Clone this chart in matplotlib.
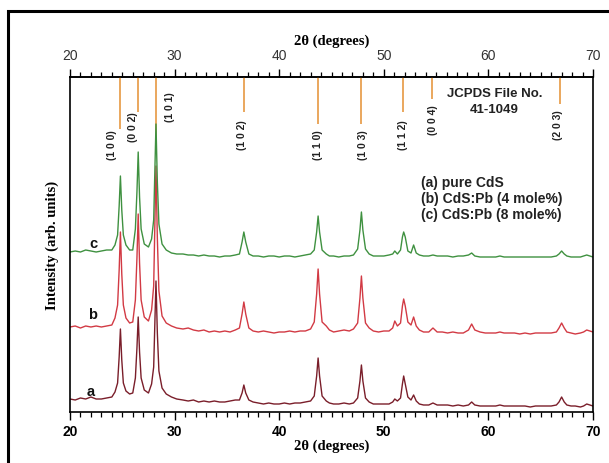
import matplotlib
matplotlib.use("Agg")
import matplotlib.pyplot as plt
from matplotlib.patches import Rectangle
from matplotlib.ticker import MultipleLocator

# ---------------- data ----------------
two_theta = [
    20.0, 20.5, 21.0, 21.5, 22.0, 22.5, 23.0, 23.5, 24.0,
    24.3, 24.55, 24.7, 24.82, 24.95, 25.1, 25.35, 25.7, 26.0,
    26.25, 26.4, 26.52, 26.65, 26.8, 27.1,
    27.5, 27.8, 28.0, 28.12, 28.22, 28.35, 28.5, 28.8, 29.2, 29.7,
    30.2, 30.8, 31.3, 31.8, 32.3, 32.8, 33.3, 33.8, 34.3, 34.8, 35.3, 35.8,
    36.2, 36.45, 36.62, 36.8, 37.1, 37.5,
    38.0, 38.5, 39.0, 39.5, 40.0, 40.5, 41.0, 41.5, 42.0, 42.5, 43.0,
    43.35, 43.58, 43.72, 43.86, 44.1, 44.5, 44.8,
    45.2, 45.7, 46.2, 46.7, 47.1,
    47.5, 47.72, 47.86, 48.0, 48.25, 48.6, 49.0,
    49.5, 50.0, 50.5,
    50.85, 51.05, 51.3, 51.6, 51.78, 51.9, 52.05, 52.3, 52.6, 52.85, 53.1, 53.4, 53.8,
    54.3, 54.7, 55.1, 55.6, 56.1, 56.6, 57.1, 57.6, 58.1, 58.4, 58.7, 59.2, 59.7,
    60.2, 60.7, 61.1, 61.5, 62.0, 62.5, 63.0, 63.5, 64.0, 64.5, 65.0, 65.5, 66.0, 66.5,
    66.75, 67.0, 67.25, 67.5, 67.9,
    68.3, 68.8, 69.1, 69.4, 69.7, 70.0,
]

# (a) pure CdS
intensity_a = [
    13, 12, 14, 13, 15, 13, 13, 14, 15,
    20, 29, 55, 83, 52, 29, 21, 18, 19,
    34, 64, 95, 60, 34, 22,
    19, 28, 45, 91, 131, 79, 41, 24, 18, 15,
    13, 12, 11, 12, 10, 11, 10, 11, 10, 10, 11, 12,
    12, 19, 27, 19, 12, 10,
    9, 8, 9, 8, 8, 9, 8, 9, 9, 10, 11,
    16, 36, 54, 36, 16, 11, 9,
    8, 8, 9, 8, 9,
    14, 31, 47, 31, 14, 10, 8,
    8, 8, 8,
    10, 13, 11, 14, 28, 36, 28, 15, 12, 17, 11, 8, 7,
    7, 9, 7, 7, 7, 6, 7, 6, 7, 10, 7, 6, 6,
    6, 6, 7, 6, 6, 6, 6, 6, 5, 6, 6, 6, 6, 7,
    10, 15, 10, 7, 6,
    6, 5, 6, 8, 7, 6,
]

# (b) CdS:Pb (4 mole%)
intensity_b = [
    85, 86, 84, 86, 85, 86, 85, 86, 87,
    94, 107, 142, 180, 138, 107, 94, 89, 90,
    112, 154, 198, 149, 112, 95,
    91, 102, 126, 190, 246, 174, 121, 96, 89, 86,
    84, 83, 84, 82, 81, 82, 80, 81, 80, 81, 80, 82,
    84, 98, 110, 98, 84, 81,
    80, 81, 80, 79, 80, 80, 81, 80, 81, 81, 83,
    90, 118, 143, 118, 90, 86, 82,
    80, 81, 82, 81, 83,
    89, 114, 136, 114, 89, 84, 81,
    80, 81, 81,
    84, 91, 86, 89, 106, 113, 106, 90, 87, 95, 86, 82, 80,
    80, 84, 80, 80, 79, 80, 79, 79, 82, 88, 82, 80, 79,
    79, 79, 80, 79, 79, 79, 78, 79, 78, 79, 79, 79, 79, 80,
    84, 89, 84, 80, 79,
    78, 79, 80, 82, 81, 80,
]

# (c) CdS:Pb (8 mole%)
intensity_c = [
    160, 161, 160, 162, 161, 160, 161, 162, 162,
    167, 177, 206, 236, 202, 177, 167, 162, 162,
    183, 220, 260, 215, 183, 168,
    165, 173, 192, 243, 288, 230, 188, 168, 162, 159,
    158, 158, 157, 157, 156, 157, 156, 156, 155, 156, 156, 157,
    158, 170, 180, 170, 158, 156,
    156, 155, 156, 156, 155, 156, 156, 155, 156, 157, 158,
    162, 180, 196, 180, 162, 158, 156,
    156, 155, 156, 156, 157,
    163, 182, 200, 182, 163, 158, 156,
    156, 156, 157,
    158, 161, 158, 162, 175, 180, 175, 161, 159, 167, 159, 157, 156,
    156, 157, 156, 156, 156, 155, 156, 156, 157, 159, 156, 155, 155,
    155, 155, 156, 155, 155, 155, 155, 155, 155, 155, 155, 155, 155, 156,
    158, 161, 158, 156, 155,
    155, 155, 156, 157, 156, 155,
]

# JCPDS 41-1049 reference lines
jcpds_pos = [24.82, 26.52, 28.2, 36.62, 43.7, 47.85, 51.85, 54.6, 66.8]
jcpds_bottom = [283, 300, 266, 300, 288, 288, 300, 313, 308]
jcpds_hkl = ["(1 0 0)", "(0 0 2)", "(1 0 1)", "(1 0 2)", "(1 1 0)",
             "(1 0 3)", "(1 1 2)", "(0 0 4)", "(2 0 3)"]

series_labels = ["a", "b", "c"]
legend_lines = ["(a) pure CdS", "(b) CdS:Pb (4 mole%)", "(c) CdS:Pb (8 mole%)"]

x_ticks = [20, 30, 40, 50, 60, 70]

assert len(two_theta) == len(intensity_a) == len(intensity_b) == len(intensity_c)

# ---------------- figure ----------------
W, H = 609, 464
fig = plt.figure(figsize=(W / 100, H / 100), dpi=100)
ax = fig.add_axes([70 / W, 1 - 413 / H, 523 / W, 335 / H])

sans = ["Liberation Sans", "DejaVu Sans"]
serif = ["Liberation Serif", "DejaVu Serif"]

col_a = "#7a1e2a"
col_b = "#d23a44"
col_c = "#3f9140"

ax.plot(two_theta, intensity_a, color=col_a, lw=1.0)
ax.plot(two_theta, intensity_b, color=col_b, lw=1.0)
ax.plot(two_theta, intensity_c, color=col_c, lw=1.0)

ax.set_xlim(20, 70)
ax.set_ylim(0, 335)

# reference lines
for p, yb in zip(jcpds_pos, jcpds_bottom):
    ax.vlines(p, yb, 335, color="#e8a050", lw=1.3, zorder=1)

# hkl labels (offset in degrees, top y)
lab_dx = [-0.85, -0.5, 1.35, -0.15, 0.05, 0.15, -0.05, 0.1, -0.15]
lab_top = [283, 301, 321, 293, 283, 283, 293, 308, 303]
for p, dx, yt, t in zip(jcpds_pos, lab_dx, lab_top, jcpds_hkl):
    ax.text(p + dx, yt, t, rotation=90, ha="center", va="top",
            fontsize=7.5, fontweight="bold", family=sans, color="#222222")

ax.text(60.6, 311, "JCPDS File No.\n41-1049", ha="center", va="center",
        fontsize=9.5, fontweight="bold", family=sans, color="#222222",
        linespacing=1.35)

for i, t in enumerate(legend_lines):
    ax.text(53.6, 230 - i * 16, t, ha="left", va="center", fontsize=10,
            fontweight="bold", family=sans, color="#222222")

lab_xy = [(22.0, 21), (22.2, 98), (22.2, 169)]
for (lx, ly), t in zip(lab_xy, series_labels):
    ax.text(lx, ly, t, ha="center", va="center", fontsize=10.5,
            fontweight="bold", family=sans, color="#111111")

# axes styling
ax.set_yticks([])
ax.xaxis.set_major_locator(MultipleLocator(10))
ax.xaxis.set_minor_locator(MultipleLocator(1))
ax.set_xticks(x_ticks)
ax.tick_params(axis="x", which="major", direction="out", length=6, width=1.0,
               pad=3, bottom=True, top=False)
ax.tick_params(axis="x", which="minor", direction="out", length=3.5, width=0.9,
               bottom=True, top=False)
for lab in ax.get_xticklabels():
    lab.set_fontfamily(sans)
    lab.set_fontweight("bold")
    lab.set_fontsize(10)
for s in ax.spines.values():
    s.set_linewidth(1.2)

ax.set_xlabel("2θ (degrees)", family=serif, fontweight="bold", fontsize=10.5,
              labelpad=0)
ax.set_ylabel("Intensity (arb. units)", family=serif, fontweight="bold",
              fontsize=10.5, labelpad=8)

top = ax.secondary_xaxis("top")
top.set_xticks(x_ticks)
top.xaxis.set_minor_locator(MultipleLocator(1))
top.tick_params(axis="x", which="major", direction="out", length=6, width=1.0,
                pad=5, labelsize=10, labelcolor="#333333")
top.tick_params(axis="x", which="minor", direction="out", length=3.5, width=0.9)
for lab in top.get_xticklabels():
    lab.set_fontfamily(sans)
top.set_xlabel("2θ (degrees)", family=serif, fontweight="bold", fontsize=10.5,
               labelpad=3)
top.spines["top"].set_linewidth(1.2)

# outer frame
fig.patches.append(Rectangle((8 / W, -0.2), 1.2, 1.2 - 12 / H,
                             transform=fig.transFigure, fill=False,
                             edgecolor="black", lw=2.2))

fig.savefig("out.png", dpi=100)
